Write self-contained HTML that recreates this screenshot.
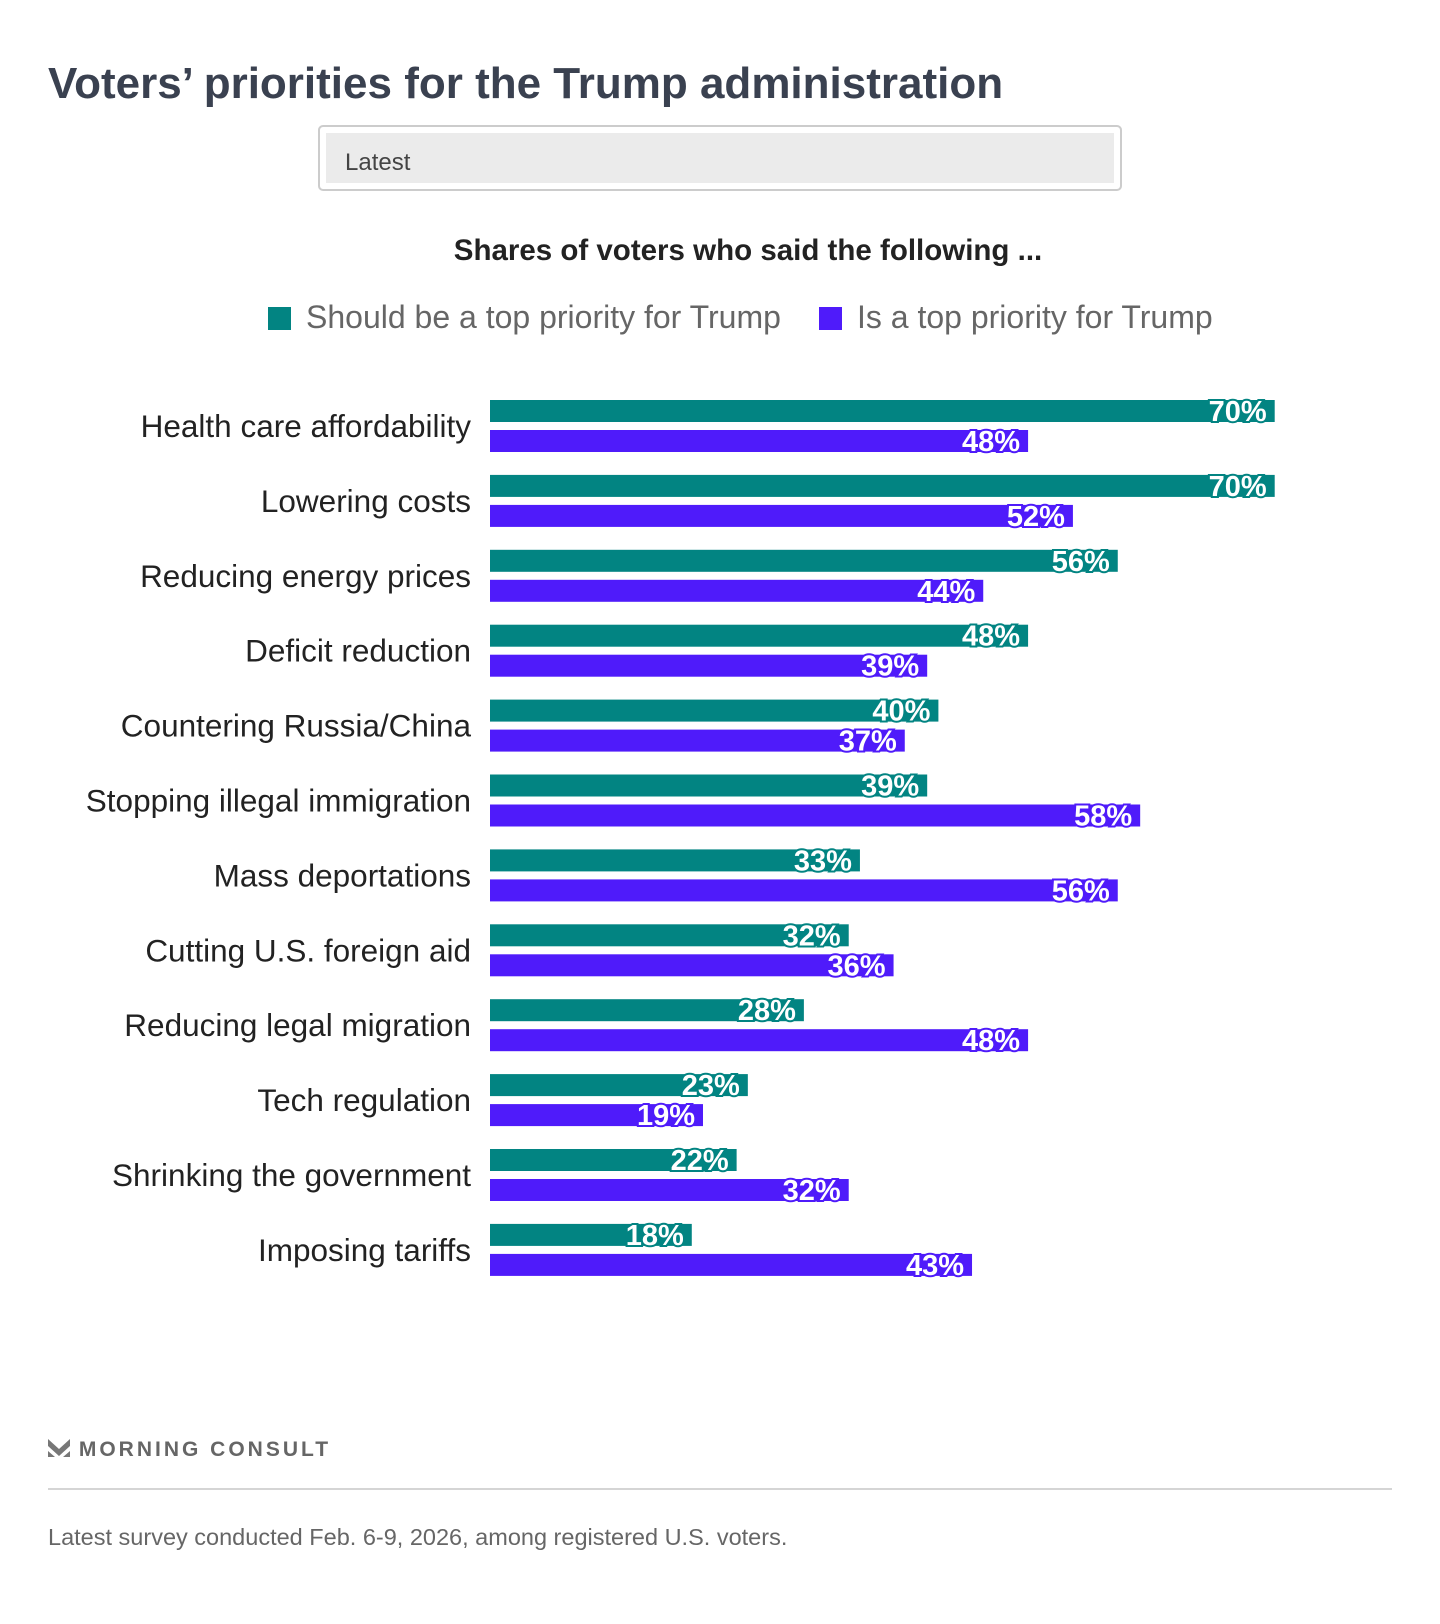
<!DOCTYPE html>
<html><head><meta charset="utf-8"><style>
body{margin:0;width:1440px;height:1624px;background:#fff;font-family:"Liberation Sans",sans-serif;position:relative;overflow:hidden}
.t{position:absolute;white-space:nowrap}
</style></head><body>
<div class="t" style="left:48px;top:59px;font-size:44px;font-weight:bold;color:#3a4150">Voters’ priorities for the Trump administration</div>
<div style="position:absolute;left:318px;top:125px;width:800px;height:62px;border:2px solid #ccc;border-radius:5px;background:#fff">
 <div style="position:absolute;left:6px;top:6px;right:6px;bottom:6px;background:#ebebeb"></div>
 <div class="t" style="left:25px;top:22px;font-size:24px;color:#444">Latest</div>
</div>
<div class="t" style="left:0;width:1496px;text-align:center;top:234px;font-size:29.5px;font-weight:bold;color:#222">Shares of voters who said the following ...</div>
<div class="t" style="left:268px;top:299px;font-size:32px;color:#666"><span style="display:inline-block;width:23px;height:23px;background:#028482;margin-right:15px;vertical-align:-2px"></span>Should be a top priority for Trump</div>
<div class="t" style="left:819px;top:299px;font-size:32px;color:#666"><span style="display:inline-block;width:23px;height:23px;background:#4f1bfa;margin-right:15px;vertical-align:-2px"></span>Is a top priority for Trump</div>
<svg id="chart" width="1440" height="1624" style="position:absolute;left:0;top:0"></svg>
<div class="t" style="left:48px;top:1437px;font-size:21px;font-weight:bold;letter-spacing:3px;color:#666">
<svg width="22" height="22" viewBox="0 0 22 22" style="vertical-align:-3px"><path d="M0 2 L11 12 L22 2 L22 9 L11 19 L0 9Z" fill="#777"/><path d="M0 14 L7 20 L0 20Z M22 14 L15 20 L22 20Z" fill="#777"/></svg> MORNING CONSULT</div>
<div style="position:absolute;left:48px;top:1488px;width:1344px;height:2px;background:#d5d5d5"></div>
<div class="t" style="left:48px;top:1524px;font-size:23.5px;color:#666">Latest survey conducted Feb. 6-9, 2026, among registered U.S. voters.</div>
<script>
const categories=["Health care affordability","Lowering costs","Reducing energy prices","Deficit reduction","Countering Russia/China","Stopping illegal immigration","Mass deportations","Cutting U.S. foreign aid","Reducing legal migration","Tech regulation","Shrinking the government","Imposing tariffs"];
const shouldValues=[70,70,56,48,40,39,33,32,28,23,22,18];
const isValues=[48,52,44,39,37,58,56,36,48,19,32,43];
const svg=document.getElementById('chart');
const NS='http://www.w3.org/2000/svg';
const x0=490,pxPer=11.21,top0=400,pitch=74.9,bh=22;
const xs=v=>x0+v*pxPer;
const ys=i=>top0+i*pitch;
function mk(tag,attrs,txt){const e=document.createElementNS(NS,tag);for(const k in attrs)e.setAttribute(k,attrs[k]);if(txt!=null)e.textContent=txt;svg.appendChild(e);return e;}
categories.forEach((c,i)=>{
 const y=ys(i);
 const l=mk('text',{x:471,y:y+37,'text-anchor':'end','font-size':31.5,fill:'#222','font-family':'Liberation Sans, sans-serif'},c);
 
 
 [[shouldValues[i],'#028482',0,'bar-should'],[isValues[i],'#4f1bfa',30,'bar-is']].forEach(([v,col,off,nm])=>{
  const r=mk('rect',{x:x0,y:y+off,width:xs(v)-x0,height:bh,fill:col});
  
  
  const t=mk('text',{x:xs(v)-8,y:y+off+21,'text-anchor':'end','font-size':29,'font-weight':'bold',fill:'#fff',stroke:col,'stroke-width':4,'paint-order':'stroke','font-family':'Liberation Sans Narrow, Liberation Sans, sans-serif'},v+'%');
  
  
 });
});
</script>
</body></html>
